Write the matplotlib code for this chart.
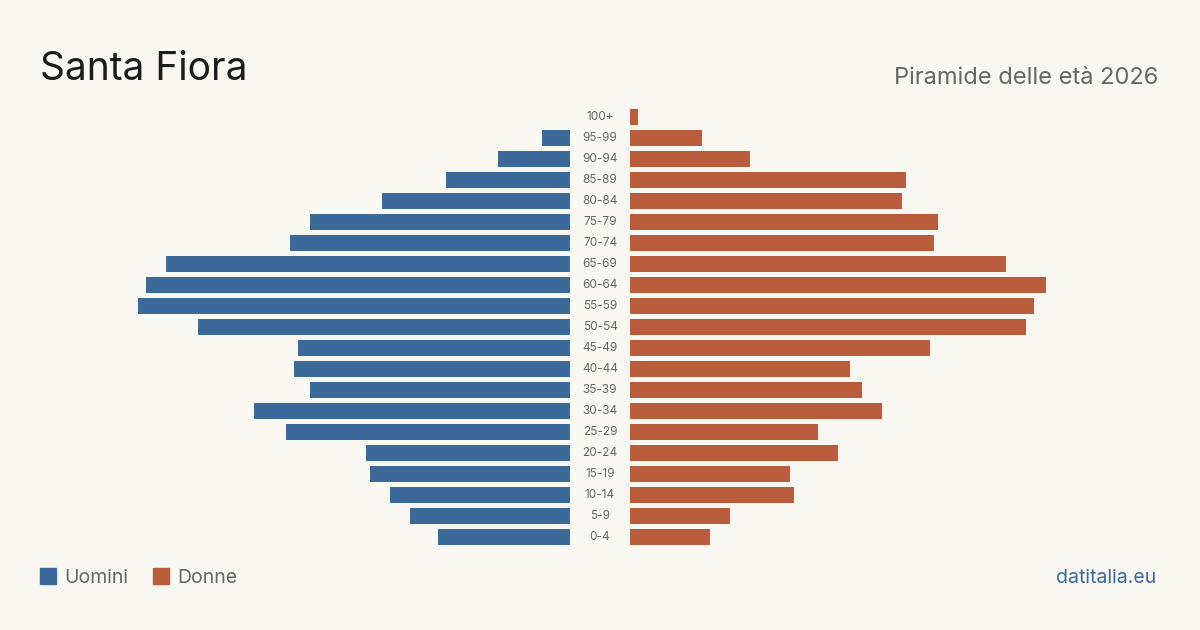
import matplotlib.pyplot as plt
from matplotlib.patches import Rectangle

plt.rcParams['font.family'] = ['Inter', 'DejaVu Sans']

age_groups = ["0-4", "5-9", "10-14", "15-19", "20-24", "25-29", "30-34", "35-39",
              "40-44", "45-49", "50-54", "55-59", "60-64", "65-69", "70-74",
              "75-79", "80-84", "85-89", "90-94", "95-99", "100+"]
men = [33, 40, 45, 50, 51, 71, 79, 65, 69, 68, 93, 108, 106, 101, 70, 65, 47, 31, 18, 7, 0]
women = [20, 25, 41, 40, 52, 47, 63, 58, 55, 75, 99, 101, 104, 94, 76, 77, 68, 69, 30, 18, 2]

BG = "#f9f7f2"
BLUE = "#3b6a9a"
ORANGE = "#b95c3c"
GRAY = "#666666"

W, H = 1200, 630
fig = plt.figure(figsize=(12, 6.3), dpi=100, facecolor=BG)

xmax = 132.5  # 530 px wide half -> 4 px per person
n = len(age_groups)
bottom = (H - 547.5) / H
height = (547.5 - 106.5) / H

ax_l = fig.add_axes([40 / W, bottom, 530 / W, height])
ax_r = fig.add_axes([630 / W, bottom, 530 / W, height])

ypos = list(range(n))
ax_l.barh(ypos, men, height=0.8, color=BLUE)
ax_r.barh(ypos, women, height=0.8, color=ORANGE)

for ax in (ax_l, ax_r):
    ax.set_facecolor("none")
    ax.set_ylim(-0.5, n - 0.5)
    ax.axis("off")
ax_l.set_xlim(xmax, 0)
ax_r.set_xlim(0, xmax)

# age labels in the middle gap
trans = ax_r.get_yaxis_transform()
for i, lab in enumerate(age_groups):
    ax_r.text(-30 / 530, i, lab, transform=trans, ha="center", va="center",
              fontsize=8.5, color=GRAY, clip_on=False)

fig.text(40 / W, 1 - 69 / H, "Santa Fiora", fontsize=28, color="#1c1c1c",
         ha="left", va="center")
fig.text(1158 / W, 1 - 78 / H, "Piramide delle età 2026", fontsize=17,
         color=GRAY, ha="right", va="center")

# legend
fig.patches.append(Rectangle((40 / W, 1 - 584 / H), 16 / W, 16 / H,
                             transform=fig.transFigure, color=BLUE))
fig.text(64 / W, 1 - 578 / H, "Uomini", fontsize=14, color=GRAY, ha="left", va="center")
fig.patches.append(Rectangle((153 / W, 1 - 584 / H), 16 / W, 16 / H,
                             transform=fig.transFigure, color=ORANGE))
fig.text(177 / W, 1 - 578 / H, "Donne", fontsize=14, color=GRAY, ha="left", va="center")

fig.text(1156 / W, 1 - 578 / H, "datitalia.eu", fontsize=14, color=BLUE,
         ha="right", va="center")

fig.savefig("out.png", dpi=100, facecolor=BG)
